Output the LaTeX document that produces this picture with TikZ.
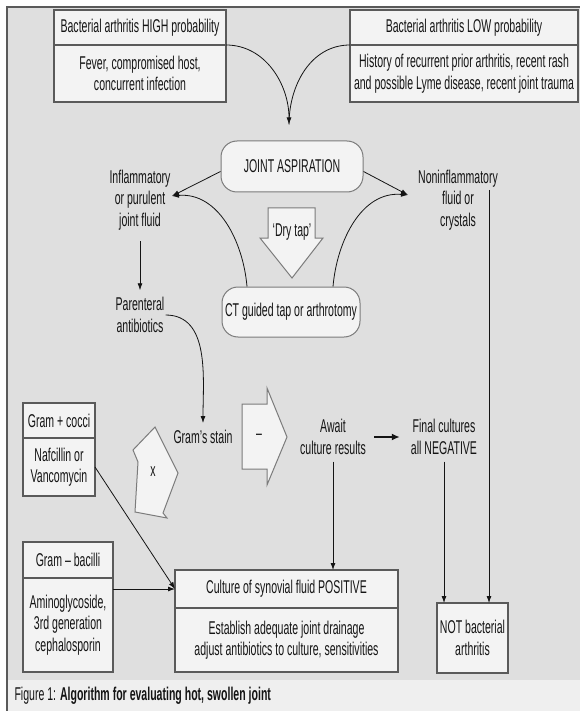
\documentclass[tikz,border=0pt]{standalone}
\usepackage{fontspec}
\setmainfont{Liberation Sans}[FakeStretch=0.57]
\usetikzlibrary{positioning,arrows.meta}

\definecolor{panel}{HTML}{DFDFDF}
\definecolor{capfill}{HTML}{EFEFEF}
\definecolor{boxfill}{HTML}{F3F3F3}
\definecolor{edge}{HTML}{5A5A5A}
\definecolor{ink}{HTML}{141414}

\newcommand{\lbl}{\fontsize{18.5}{21.5}\selectfont}

\tikzset{
  txt/.style={align=center, text=ink, inner sep=1pt},
  headbox/.style={draw=edge, line width=1.4pt, fill=boxfill, align=center,
    text=ink, inner sep=0pt, outer sep=0pt},
  roundbox/.style={draw=edge!80, line width=1pt, fill=boxfill, rounded corners=16pt,
    align=center, text=ink, inner sep=0pt},
  link/.style={draw=ink, line width=0.8pt},
  arr/.style={link, -{Latex[length=7pt,width=5pt]}},
  blockarr/.style={draw=edge!80, line width=1pt, fill=boxfill},
}

\begin{document}
\begin{tikzpicture}[x=1pt, y=-1pt, font=\lbl]
  \useasboundingbox (0,0) rectangle (580,711);
  % panel and caption strip
  \fill[white] (0,0) rectangle (580,711);
  \fill[panel] (7,7) rectangle (580,680);
  \fill[capfill] (7,680) rectangle (580,711);
  \draw[edge, line width=1.5pt] (7,711) -- (7,7) -- (580,7);

  % probability boxes
  \node[headbox, minimum width=172pt, minimum height=35pt] (hiT) at (140,27.5) {Bacterial arthritis HIGH probability};
  \node[headbox, minimum width=172pt, minimum height=57pt, below=0pt of hiT] (hiB) {Fever, compromised host,\\concurrent infection};
  \node[headbox, minimum width=228pt, minimum height=35pt] (loT) at (464,27.5) {Bacterial arthritis LOW probability};
  \node[headbox, minimum width=228pt, minimum height=57pt, below=0pt of loT] (loB) {History of recurrent prior arthritis, recent rash\\and possible Lyme disease, recent joint trauma};

  % aspiration and fallback
  \node[roundbox, minimum width=142pt, minimum height=51pt] (joint) at (292,166.5) {JOINT ASPIRATION};
  \node[roundbox, minimum width=138pt, minimum height=50pt] (ct) at (291,312) {CT guided tap or arthrotomy};

  % fluid results
  \node[txt] (inflam) at (140,200) {Inflammatory\\or purulent\\joint fluid};
  \node[txt] (nonin) at (458,200) {Noninflammatory\\fluid or\\crystals};
  \node[txt] (parent) at (140,315) {Parenteral\\antibiotics};
  \coordinate (inTip) at (172,196);
  \coordinate (nonTip) at (408,195);
  \coordinate (nonOut) at (489,190);

  % stain and cultures
  \node[txt] (stain) at (203,437) {Gram's stain};
  \node[txt] (await) at (333,437) {Await\\culture results};
  \node[txt] (final) at (444,437) {Final cultures\\all NEGATIVE};

  % antibiotic boxes
  \node[headbox, minimum width=72pt, minimum height=35pt] (gpT) at (59,420.5) {Gram + cocci};
  \node[headbox, minimum width=72pt, minimum height=58pt, below=0pt of gpT] (gpB) {Nafcillin or\\Vancomycin};
  \node[headbox, minimum width=90pt, minimum height=36pt] (gnT) at (68,560) {Gram -- bacilli};
  \node[headbox, minimum width=90pt, minimum height=94pt, below=0pt of gnT] (gnB) {Aminoglycoside,\\3rd generation\\cephalosporin};

  % outcome boxes
  \node[headbox, minimum width=223pt, minimum height=38pt] (cuT) at (286.5,589) {Culture of synovial fluid POSITIVE};
  \node[headbox, minimum width=223pt, minimum height=64pt, below=0pt of cuT] (cuB) {Establish adequate joint drainage\\adjust antibiotics to culture, sensitivities};
  \node[headbox, minimum width=71pt, minimum height=70pt] (notB) at (472.5,638) {NOT bacterial\\arthritis};

  % block arrows
  \draw[blockarr] (268,208) -- (315,208) -- (315,238) -- (323,238) -- (292,278) -- (260,238) -- (268,238) -- cycle;
  \node[txt] (dry) at (292,232) {`Dry tap'};
  \draw[blockarr] (242,404) -- (267,404) -- (267,388) -- (287,437) -- (267,485) -- (267,469) -- (242,469) -- cycle;
  \node[txt] (neg) at (259,437) {--};
  \draw[blockarr] (155,427) -- (178,473) -- (163,513) -- (167,518) -- (135,512) -- (138,462) -- (133,450) -- cycle;
  \node[txt] (pos) at (153,472) {x};

  % connectors
  \draw[arr] (hiT.south east) to[out=0, in=90] ([xshift=-3pt, yshift=16pt]joint.north);
  \draw[link] (loT.south west) to[out=180, in=90] ([xshift=-3pt, yshift=16pt]joint.north);
  \draw[arr] ([yshift=-5pt]joint.west) -- (inTip);
  \draw[arr] ([yshift=-5pt]joint.east) -- (nonTip);
  \draw[arr] ([xshift=-44pt]ct.north) to[out=95, in=5] (inTip);
  \draw[arr] ([xshift=42pt]ct.north) to[out=85, in=175] (nonTip);
  \draw[arr] ([yshift=-10pt]inflam.south) -- ([yshift=6pt]parent.north);
  \draw[arr] (parent.east) to[out=0, in=90] ([yshift=6pt]stain.north);
  \draw[arr, line width=1.8pt, -{Latex[length=8pt,width=7pt]}] ([xshift=7pt]await.east) -- ([xshift=-10pt]final.west);
  \draw[arr] ([yshift=-6pt]await.south) -- (await.south |- cuT.north);
  \draw[arr] ([yshift=-6pt]final.south) -- (final.south |- notB.north);
  \draw[arr] (nonOut) -- (nonOut |- notB.north);
  \draw[arr] (gpB.east) -- (cuT.west);
  \draw[arr] (cuT.west -| gnB.east) -- (cuT.west);

  % caption
  \node[anchor=west, text=ink] (cap) at (11,696) {Figure 1: \textbf{Algorithm for evaluating hot, swollen joint}};
\end{tikzpicture}
\end{document}
